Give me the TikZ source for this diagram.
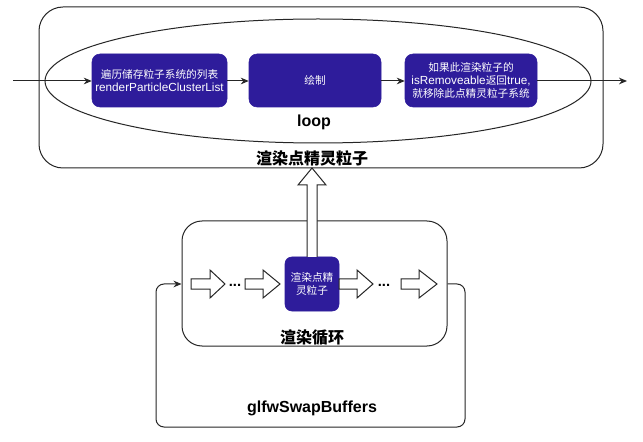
\documentclass[tikz,border=0pt]{standalone}
\usepackage{fontspec}
\setmainfont{Liberation Sans}
\newfontfamily\cjk{Noto Sans CJK SC}
\usetikzlibrary{arrows.meta,shapes.geometric,calc}
\definecolor{boxblue}{RGB}{46,28,155}
\newcommand\zs[1]{{\fontsize{8}{9.5}\selectfont\cjk #1}}
\newcommand\hollowR[3]{\draw[hollow] (#1,279) -- (#2,279) -- (#2,270) -- (#3,284) -- (#2,298) -- (#2,289) -- (#1,289) -- cycle;}
\begin{document}
\begin{tikzpicture}[x=0.75pt,y=-0.75pt,
  bluebox/.style={draw=boxblue,fill=boxblue,rounded corners=6pt,text=white,align=center,inner sep=1pt,
    font=\fontsize{8.8}{9.5}\selectfont},
  frame/.style={draw=black!85,line width=0.75pt},
  arr/.style={draw=black!85,line width=0.75pt,-{Stealth[length=6pt,width=5pt]}},
  hollow/.style={draw=black!85,line width=0.75pt,fill=white},
  lbl/.style={font=\fontsize{12}{14}\selectfont\bfseries,inner sep=0pt}]
\useasboundingbox (0,0) rectangle (643,442);
\fill[white] (0,0) rectangle (643,442);
% top frame
\node[frame,rounded corners=18pt,minimum width=423pt,minimum height=120.75pt,inner sep=0pt] (outer) at (321,87.5) {};
\node[frame,ellipse,minimum width=409.5pt,minimum height=93pt,inner sep=0pt] (loopell) at (318,81) {};
\node[bluebox,minimum width=101.25pt,minimum height=39.75pt] (b1) at (159.5,80.5)
  {\zs{遍历储存粒子系统的列表}\\renderParticleClusterList};
\node[bluebox,minimum width=99pt,minimum height=39.75pt] (b2) at (315,80.5) {\zs{绘制}};
\node[bluebox,minimum width=99pt,minimum height=39.75pt] (b3) at (471,80.5)
  {\zs{如果此渲染粒子的}\\isRemoveable\zs{返回}true,\\\zs{就移除此点精灵粒子系统}};
\coordinate (in) at (13,81);
\coordinate (out) at (627,81);
\draw[arr] (in) -- (in -| b1.west);
\draw[arr] (b1.east |- in) -- (b2.west |- in);
\draw[arr] (b2.east |- in) -- (b3.west |- in);
\draw[arr] (b3.east |- in) -- (out);
\node[lbl] (looplbl) at (314,122) {loop};
\node[lbl] (toplbl) at (312,158) {\cjk 渲染点精灵粒子};
% middle frame
\node[frame,rounded corners=15pt,minimum width=198.75pt,minimum height=93.75pt,inner sep=0pt] (mid) at (314.5,283.5) {};
\node[bluebox,minimum width=40.5pt,minimum height=40.5pt,rounded corners=5pt] (sp) at (312,284)
  {\zs{渲染点精}\\\zs{灵粒子}};
\node[lbl] (midlbl) at (312,338) {\cjk 渲染循环};
% hollow arrows
\draw[hollow] (307,257) -- (307,185) -- (298,185) -- (312,168) -- (326,185) -- (317,185) -- (317,257);
\hollowR{191}{210}{225}
\hollowR{245}{263}{280}
\hollowR{339}{357}{373}
\hollowR{401}{419}{437}
\node[inner sep=0pt,font=\fontsize{11}{12}\selectfont\bfseries] (dots1) at (235,285) {...};
\node[inner sep=0pt,font=\fontsize{11}{12}\selectfont\bfseries] (dots2) at (384,285) {...};
% feedback loop
\draw[arr,rounded corners=6pt] (mid.east |- sp) -- (465,284) -- (465,427) -- (156,427) -- (156,284) -- (mid.west |- sp);
\node[lbl] (swaplbl) at (312,408) {glfwSwapBuffers};
\end{tikzpicture}
\end{document}
